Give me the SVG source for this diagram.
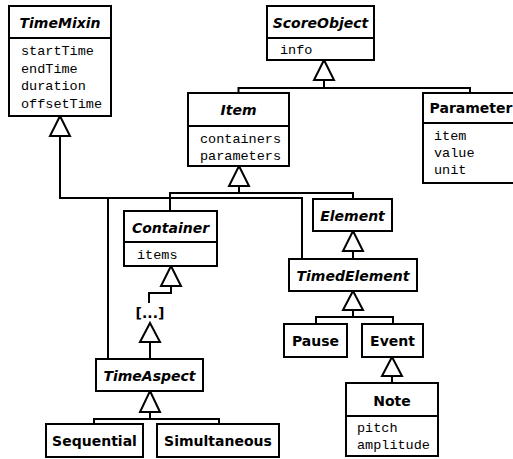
<svg xmlns="http://www.w3.org/2000/svg" width="513" height="459" viewBox="0 0 513 459">
<style>
.box{fill:#fff;stroke:#000;stroke-width:2}
.div{stroke:#000;stroke-width:2}
.t{font-family:"DejaVu Sans",sans-serif;font-weight:bold;font-size:14px;text-anchor:middle}
.ti{font-style:italic}
.a{font-family:"Liberation Mono",monospace;font-size:13.5px}
.c{fill:none;stroke:#000;stroke-width:2}
.g{fill:#fff;stroke:#000;stroke-width:2;stroke-linejoin:miter}
</style>
<rect width="513" height="459" fill="#fff"/>
<g id="connectors">
<path class="c" d="M60,136 V198 H302 V259 M108,198 V358"/>
<path class="c" d="M324,80 V88 M238.5,93 V88 H470 V93"/>
<path class="c" d="M239,186 V193 M170,211 V193 H353 V199"/>
<path class="c" d="M171,286 V293 H149 V303"/>
<path class="c" d="M150,342 V359"/>
<path class="c" d="M150,412 V419 M94,424 V419 H219 V424"/>
<path class="c" d="M353,251 V259"/>
<path class="c" d="M353,310 V317 M316,324 V317 H393 V324"/>
<path class="c" d="M392,376 V383"/>
<polygon class="g" points="60,116 70,136 50,136"/>
<polygon class="g" points="324,60 334,80 314,80"/>
<polygon class="g" points="239,166 249,186 229,186"/>
<polygon class="g" points="171,266 181,286 161,286"/>
<polygon class="g" points="150,323 160,342 140,342"/>
<polygon class="g" points="150,391 160,412 140,412"/>
<polygon class="g" points="353,231 363,251 343,251"/>
<polygon class="g" points="353,291 363,310 343,310"/>
<polygon class="g" points="392,357 402,376 382,376"/>
</g>
<g id="TimeMixin">
<rect class="box" x="9" y="6" width="102" height="110"/>
<line class="div" x1="9" y1="38" x2="111" y2="38"/>
<text class="t ti" x="60" y="28">TimeMixin</text>
<text class="a" x="21" y="55">startTime</text>
<text class="a" x="21" y="72.5">endTime</text>
<text class="a" x="21" y="90">duration</text>
<text class="a" x="21" y="107.5">offsetTime</text>
</g>
<g id="ScoreObject">
<rect class="box" x="267" y="6" width="107" height="54"/>
<line class="div" x1="267" y1="38" x2="374" y2="38"/>
<text class="t ti" x="320.5" y="28">ScoreObject</text>
<text class="a" x="280" y="54">info</text>
</g>
<g id="Item">
<rect class="box" x="188" y="93" width="101" height="73"/>
<line class="div" x1="188" y1="126" x2="289" y2="126"/>
<text class="t ti" x="238.5" y="115">Item</text>
<text class="a" x="200" y="143">containers</text>
<text class="a" x="200" y="160">parameters</text>
</g>
<g id="Parameter">
<rect class="box" x="423" y="93" width="96" height="90"/>
<line class="div" x1="423" y1="123" x2="519" y2="123"/>
<text class="t" x="471" y="113">Parameter</text>
<text class="a" x="434" y="140">item</text>
<text class="a" x="434" y="157">value</text>
<text class="a" x="434" y="174">unit</text>
</g>
<g id="Container">
<rect class="box" x="124" y="211" width="93" height="55"/>
<line class="div" x1="124" y1="242" x2="217" y2="242"/>
<text class="t ti" x="170.5" y="233">Container</text>
<text class="a" x="137" y="259">items</text>
</g>
<g id="Ellipsis">
<text class="t" x="150" y="318">[...]</text>
</g>
<g id="TimeAspect">
<rect class="box" x="96" y="359" width="107" height="32"/>
<text class="t ti" x="149.5" y="381">TimeAspect</text>
</g>
<g id="Sequential">
<rect class="box" x="46" y="424" width="97" height="33"/>
<text class="t" x="94.5" y="446">Sequential</text>
</g>
<g id="Simultaneous">
<rect class="box" x="157" y="424" width="122" height="33"/>
<text class="t" x="218" y="446">Simultaneous</text>
</g>
<g id="Element">
<rect class="box" x="313" y="199" width="79" height="32"/>
<text class="t ti" x="352.5" y="221">Element</text>
</g>
<g id="TimedElement">
<rect class="box" x="289" y="259" width="128" height="32"/>
<text class="t ti" x="353" y="281">TimedElement</text>
</g>
<g id="Pause">
<rect class="box" x="284" y="324" width="63" height="33"/>
<text class="t" x="315.5" y="346">Pause</text>
</g>
<g id="Event">
<rect class="box" x="362" y="324" width="61" height="33"/>
<text class="t" x="392.5" y="346">Event</text>
</g>
<g id="Note">
<rect class="box" x="346" y="383" width="92" height="73"/>
<line class="div" x1="346" y1="416" x2="438" y2="416"/>
<text class="t" x="392" y="406">Note</text>
<text class="a" x="357" y="432">pitch</text>
<text class="a" x="357" y="449">amplitude</text>
</g>
</svg>
